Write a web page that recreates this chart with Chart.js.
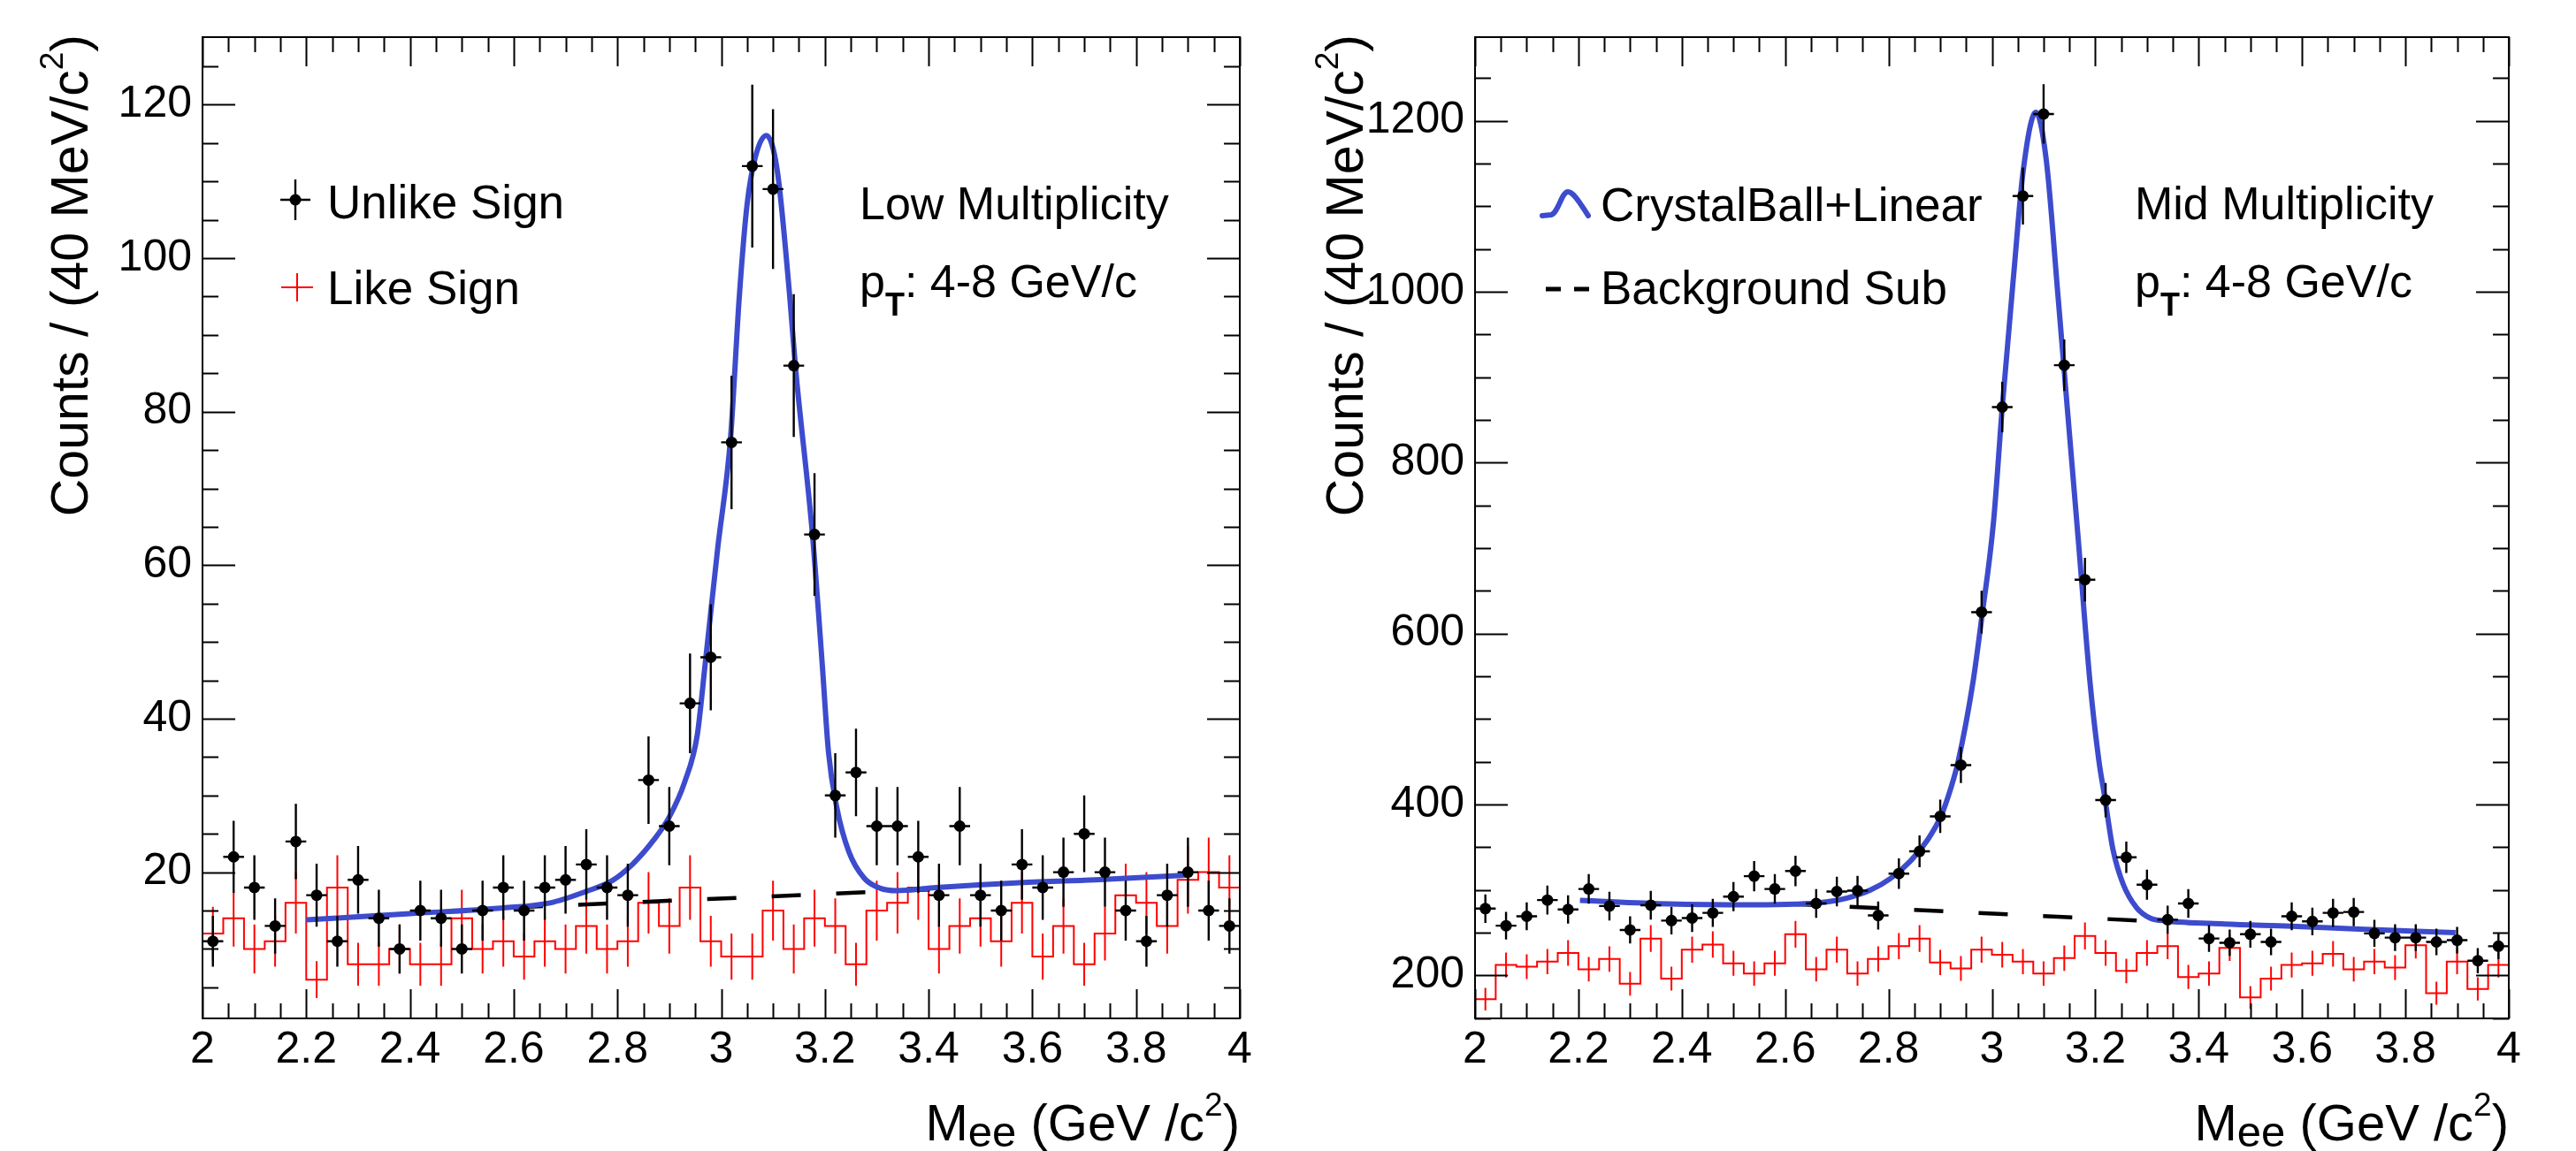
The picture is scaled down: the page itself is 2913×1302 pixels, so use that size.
<!DOCTYPE html>
<html>
<head>
<meta charset="utf-8">
<title>J/psi invariant mass</title>
<script src="https://cdn.jsdelivr.net/npm/chart.js@4"></script>
<style>
body { margin: 0; background: #fff; }
#page { position: relative; width: 2913px; height: 1302px; overflow: hidden; font-family: "Liberation Sans", Arial, sans-serif; color: #000; }
canvas { position: absolute; top: 0; }
.txt { position: absolute; white-space: nowrap; line-height: 1; z-index: 2; }
.ytitle { position: absolute; white-space: nowrap; line-height: 1; width: 1100px; text-align: right; font-size: 59px; transform-origin: 0 0; transform: rotate(-90deg); z-index: 2; }
.sup { font-size: 37px; position: relative; top: -28px; }
.sub { font-size: 49px; position: relative; top: 7px; }
.subT { font-size: 36px; font-weight: bold; position: relative; top: 21px; }
</style>
</head>
<body>
<div id="page">
  <canvas id="lowChart" width="1460" height="1302" style="left:0px"></canvas>
  <canvas id="midChart" width="1453" height="1302" style="left:1460px"></canvas>

  <div class="ytitle" style="left:50px; top:1139px">Counts / (40 MeV/c<span class="sup">2</span>)</div>
  <div class="txt" style="right:1511px; top:1241px; font-size:58px">M<span class="sub">ee</span> (GeV /c<span class="sup">2</span>)</div>
  <div class="txt" style="left:370px; top:202px; font-size:53px">Unlike Sign</div>
  <div class="txt" style="left:370px; top:299px; font-size:53px">Like Sign</div>
  <div class="txt" style="left:972px; top:204px; font-size:52px">Low Multiplicity</div>
  <div class="txt" style="left:972px; top:292px; font-size:52px">p<span class="subT">T</span>: 4-8 GeV/c</div>

  <div class="ytitle" style="left:1492px; top:1139px">Counts / (40 MeV/c<span class="sup">2</span>)</div>
  <div class="txt" style="right:76px; top:1241px; font-size:58px">M<span class="sub">ee</span> (GeV /c<span class="sup">2</span>)</div>
  <div class="txt" style="left:1810px; top:205px; font-size:53px">CrystalBall+Linear</div>
  <div class="txt" style="left:1810px; top:299px; font-size:53px">Background Sub</div>
  <div class="txt" style="left:2414px; top:204px; font-size:52px">Mid Multiplicity</div>
  <div class="txt" style="left:2414px; top:292px; font-size:52px">p<span class="subT">T</span>: 4-8 GeV/c</div>
</div>

<script>
// bin centres, 40 MeV bins from 2 to 4 GeV/c^2
const massBins = [2.02, 2.06, 2.10, 2.14, 2.18, 2.22, 2.26, 2.30, 2.34, 2.38,
                  2.42, 2.46, 2.50, 2.54, 2.58, 2.62, 2.66, 2.70, 2.74, 2.78,
                  2.82, 2.86, 2.90, 2.94, 2.98, 3.02, 3.06, 3.10, 3.14, 3.18,
                  3.22, 3.26, 3.30, 3.34, 3.38, 3.42, 3.46, 3.50, 3.54, 3.58,
                  3.62, 3.66, 3.70, 3.74, 3.78, 3.82, 3.86, 3.90, 3.94, 3.98];
const binHalfWidth = 0.02;
const massTicks = [2, 2.2, 2.4, 2.6, 2.8, 3, 3.2, 3.4, 3.6, 3.8, 4];

// ---- low multiplicity ----
const lowUnlike = [11, 22, 18, 13, 24, 17, 11, 19, 14, 10, 15, 14, 10, 15, 18, 15, 18, 19, 21, 18,
                   17, 32, 26, 42, 48, 76, 112, 109, 86, 64, 30, 33, 26, 26, 22, 17, 26, 17, 15, 21,
                   18, 20, 25, 20, 15, 11, 17, 20, 15, 13];
const lowUnlikeErr = [3.3, 4.7, 4.2, 3.6, 4.9, 4.1, 3.3, 4.4, 3.7, 3.2, 3.9, 3.7, 3.2, 3.9, 4.2, 3.9, 4.2, 4.4, 4.6, 4.2,
                      4.1, 5.7, 5.1, 6.5, 6.9, 8.7, 10.6, 10.4, 9.3, 8.0, 5.5, 5.7, 5.1, 5.1, 4.7, 4.1, 5.1, 4.1, 3.9, 4.6,
                      4.2, 4.5, 5.0, 4.5, 3.9, 3.3, 4.1, 4.5, 3.9, 3.6];
const lowLike = [12, 14, 10, 11, 16, 6, 18, 8, 8, 10, 8, 8, 14, 10, 11, 9, 11, 10, 13, 10,
                 11, 16, 13, 18, 11, 9, 9, 15, 10, 14, 13, 8, 15, 16, 18, 10, 13, 14, 11, 16,
                 9, 13, 8, 12, 17, 16, 13, 19, 20, 18];
const lowLikeErr = [3.5, 3.7, 3.2, 3.3, 4.0, 2.4, 4.2, 2.8, 2.8, 3.2, 2.8, 2.8, 3.7, 3.2, 3.3, 3.0, 3.3, 3.2, 3.6, 3.2,
                    3.3, 4.0, 3.6, 4.2, 3.3, 3.0, 3.0, 3.9, 3.2, 3.7, 3.6, 2.8, 3.9, 4.0, 4.2, 3.2, 3.6, 3.7, 3.3, 4.0,
                    3.0, 3.6, 2.8, 3.5, 4.1, 4.0, 3.6, 4.4, 4.5, 4.2];
const lowFitMass = [2.20, 2.40, 2.58, 2.67, 2.74, 2.79, 2.83, 2.87, 2.90, 2.93, 2.954, 2.969, 2.993, 3.018,
                    3.035, 3.05, 3.066, 3.087, 3.108, 3.132, 3.143, 3.176, 3.195, 3.207, 3.223, 3.246,
                    3.276, 3.307, 3.338, 3.415, 3.568, 3.722, 3.898];
const lowFitCounts = [13.8, 14.6, 15.35, 16.0, 17.5, 18.9, 21.1, 24.2, 27.2, 31.8, 37.9, 47, 62, 76.5,
                      95, 107, 113.2, 116, 111.5, 95.2, 86, 64, 47, 35.6, 28.4, 22.7,
                      19.2, 17.9, 17.6, 18.0, 18.6, 19.0, 19.6];
const lowBkgMass = [2.6, 3.42];
const lowBkgCounts = [15.4, 17.8];
const lowYTicks = [20, 40, 60, 80, 100, 120];

// ---- mid multiplicity ----
const midUnlike = [278, 258, 269, 288, 277, 301, 281, 253, 282, 264, 267, 273, 292, 316, 301, 322, 284, 298, 299, 270,
                   319, 345, 386, 446, 625, 865, 1112, 1208, 914, 663, 405, 338, 306, 265, 284, 243, 238, 248, 239, 269,
                   263, 273, 274, 249, 244, 244, 239, 241, 217, 234];
const midUnlikeErr = [16.7, 16.1, 16.4, 17.0, 16.6, 17.3, 16.8, 15.9, 16.8, 16.2, 16.3, 16.5, 17.1, 17.8, 17.3, 17.9, 16.9, 17.3, 17.3, 16.4,
                      17.9, 18.6, 19.6, 21.1, 25.0, 29.4, 33.3, 34.8, 30.2, 25.7, 20.1, 18.4, 17.5, 16.3, 16.9, 15.6, 15.4, 15.7, 15.5, 16.4,
                      16.2, 16.5, 16.6, 15.8, 15.6, 15.6, 15.5, 15.5, 14.7, 15.3];
const midLike = [172, 212, 210, 216, 226, 207, 219, 190, 243, 196, 230, 236, 214, 202, 214, 248, 207, 230, 202, 219,
                 234, 243, 215, 208, 230, 224, 216, 202, 220, 246, 226, 205, 226, 234, 198, 202, 232, 174, 196, 212,
                 214, 225, 207, 216, 209, 235, 179, 216, 184, 212];
const midLikeErr = [13.1, 14.6, 14.5, 14.7, 15.0, 14.4, 14.8, 13.8, 15.6, 14.0, 15.2, 15.4, 14.6, 14.2, 14.6, 15.7, 14.4, 15.2, 14.2, 14.8,
                    15.3, 15.6, 14.7, 14.4, 15.2, 15.0, 14.7, 14.2, 14.8, 15.7, 15.0, 14.3, 15.0, 15.3, 14.1, 14.2, 15.2, 13.2, 14.0, 14.6,
                    14.6, 15.0, 14.4, 14.7, 14.5, 15.3, 13.4, 14.7, 13.6, 14.6];
const midFitMass = [2.203, 2.375, 2.538, 2.619, 2.668, 2.72, 2.765, 2.804, 2.843, 2.875, 2.901, 2.921, 2.935,
                    2.963, 2.98, 3.003, 3.02, 3.043, 3.06, 3.085, 3.105, 3.128, 3.145, 3.168, 3.19, 3.207,
                    3.218, 3.234, 3.254, 3.28, 3.306, 3.339, 3.45, 3.58, 3.711, 3.897];
const midFitCounts = [287.6, 283.5, 282.5, 283.2, 285, 290.4, 299.7, 313.4, 334, 358, 385.6, 420, 451,
                      541.6, 617, 730, 864.6, 1026, 1139, 1210, 1155, 994, 870, 703, 541.6, 451,
                      409.6, 347.8, 306.5, 279, 267, 263.6, 260, 257.4, 254, 249.8];
const midBkgMass = [2.6, 3.42];
const midBkgCounts = [283.8, 260.1];
const midYTicks = [200, 400, 600, 800, 1000, 1200];

const fitBlue = '#3d4bcd';
const tickFont = { family: '"Liberation Sans", Arial, sans-serif', size: 50 };

// error bars drawn right after their own dataset, through the chart scales
const errorBars = {
    id: 'errorBars',
    afterDatasetDraw(chart, args) {
        const ds = chart.data.datasets[args.index];
        if (!ds.yErr) return;
        const { ctx, chartArea: a, scales: { x, y } } = chart;
        ctx.save();
        ctx.beginPath();
        ctx.rect(a.left, a.top, a.right - a.left, a.bottom - a.top);
        ctx.clip();
        ctx.strokeStyle = ds.errColor;
        ctx.lineWidth = ds.errWidth;
        ctx.beginPath();
        ds.data.forEach((p, i) => {
            const px = x.getPixelForValue(p.x);
            const py = y.getPixelForValue(p.y);
            ctx.moveTo(px, y.getPixelForValue(p.y - ds.yErr[i]));
            ctx.lineTo(px, y.getPixelForValue(p.y + ds.yErr[i]));
            if (ds.xErr) {
                ctx.moveTo(x.getPixelForValue(p.x - ds.xErr), py);
                ctx.lineTo(x.getPixelForValue(p.x + ds.xErr), py);
            }
        });
        ctx.stroke();
        ctx.restore();
    }
};

// ROOT style frame with ticks on all four sides, inside the frame
const rootFrame = {
    id: 'rootFrame',
    afterDraw(chart, args, opts) {
        const { ctx, chartArea: a, scales: { x, y } } = chart;
        ctx.save();
        ctx.strokeStyle = '#000';
        ctx.lineWidth = 2;
        ctx.strokeRect(a.left, a.top, a.right - a.left, a.bottom - a.top);
        ctx.beginPath();
        const nx = Math.round((x.max - x.min) / opts.xMinor);
        for (let k = 0; k <= nx; k++) {
            const v = x.min + k * opts.xMinor;
            const major = k % opts.xPerMajor === 0;
            const len = major ? 33 : 17;
            const px = Math.round(x.getPixelForValue(v)) + 0.5;
            ctx.moveTo(px, a.bottom); ctx.lineTo(px, a.bottom - len);
            ctx.moveTo(px, a.top); ctx.lineTo(px, a.top + len);
        }
        const k0 = Math.ceil(y.min / opts.yMinor);
        const k1 = Math.floor(y.max / opts.yMinor);
        for (let k = k0; k <= k1; k++) {
            const v = k * opts.yMinor;
            const major = k % opts.yPerMajor === 0;
            const len = major ? 37 : 18;
            const py = Math.round(y.getPixelForValue(v)) + 0.5;
            ctx.moveTo(a.left, py); ctx.lineTo(a.left + len, py);
            ctx.moveTo(a.right, py); ctx.lineTo(a.right - len, py);
        }
        ctx.stroke();
        ctx.restore();
    }
};

// legend glyphs (pixel positions inside each canvas)
const legendGlyphs = {
    id: 'legendGlyphs',
    afterDraw(chart, args, opts) {
        const ctx = chart.ctx;
        ctx.save();
        if (opts.kind === 'low') {
            ctx.strokeStyle = '#000'; ctx.lineWidth = 2.4;
            ctx.beginPath();
            ctx.moveTo(334, 203); ctx.lineTo(334, 249);
            ctx.moveTo(317, 226); ctx.lineTo(351, 226);
            ctx.stroke();
            ctx.fillStyle = '#000';
            ctx.beginPath(); ctx.arc(334, 226, 6.5, 0, Math.PI * 2); ctx.fill();
            ctx.strokeStyle = '#ff0000'; ctx.lineWidth = 2;
            ctx.beginPath();
            ctx.moveTo(336, 309); ctx.lineTo(336, 341);
            ctx.moveTo(318, 325); ctx.lineTo(354, 325);
            ctx.stroke();
        } else {
            ctx.strokeStyle = fitBlue; ctx.lineWidth = 6; ctx.lineCap = 'round';
            ctx.beginPath();
            ctx.moveTo(284, 244);
            ctx.lineTo(294, 243);
            ctx.bezierCurveTo(302, 241, 306, 217, 313, 217);
            ctx.bezierCurveTo(320, 217, 328, 232, 336, 244);
            ctx.stroke();
            ctx.strokeStyle = '#000'; ctx.lineWidth = 5; ctx.lineCap = 'butt';
            ctx.beginPath();
            ctx.moveTo(288, 327); ctx.lineTo(305, 327);
            ctx.moveTo(320, 327); ctx.lineTo(337, 327);
            ctx.stroke();
        }
        ctx.restore();
    }
};

function histEdges(values) {
    const pts = massBins.map((c, i) => ({ x: c - binHalfWidth, y: values[i] }));
    const last = massBins.length - 1;
    pts.push({ x: massBins[last] + binHalfWidth, y: values[last] });
    return pts;
}

function toPoints(xs, ys) {
    return xs.map((v, i) => ({ x: v, y: ys[i] }));
}

function makePanel(canvasId, p) {
    const ctx = document.getElementById(canvasId).getContext('2d');
    return new Chart(ctx, {
        type: 'scatter',
        data: {
            datasets: [
                {   // unlike sign, on top
                    label: 'Unlike Sign',
                    data: toPoints(massBins, p.unlike),
                    yErr: p.unlikeErr, xErr: binHalfWidth, errColor: '#000', errWidth: 2.4,
                    pointRadius: 6.5, pointBackgroundColor: '#000', pointBorderWidth: 0,
                    showLine: false
                },
                {
                    label: 'CrystalBall+Linear',
                    data: toPoints(p.fitMass, p.fitCounts),
                    showLine: true, borderColor: fitBlue, borderWidth: 6,
                    pointRadius: 0, cubicInterpolationMode: 'monotone'
                },
                {
                    label: 'Background Sub',
                    data: toPoints(p.bkgMass, p.bkgCounts),
                    showLine: true, borderColor: '#000', borderWidth: 4.5,
                    borderDash: [33, 40], pointRadius: 0
                },
                {   // like sign error bars at bin centres
                    label: 'Like Sign errors',
                    data: toPoints(massBins, p.like),
                    yErr: p.likeErr, errColor: '#ff0000', errWidth: 2,
                    pointRadius: 0, showLine: false
                },
                {
                    label: 'Like Sign',
                    data: histEdges(p.like),
                    showLine: true, stepped: 'before', borderColor: '#ff0000',
                    borderWidth: 2, pointRadius: 0
                }
            ]
        },
        options: {
            responsive: false,
            animation: false,
            events: [],
            layout: { padding: { left: 0, top: 38, right: p.padRight, bottom: 0 } },
            plugins: {
                legend: { display: false },
                tooltip: { enabled: false },
                rootFrame: { xMinor: 0.05, xPerMajor: 4, yMinor: p.yMinor, yPerMajor: 4 },
                legendGlyphs: { kind: p.kind }
            },
            scales: {
                x: {
                    type: 'linear', min: 2, max: 4,
                    grid: { display: false, drawTicks: false },
                    border: { display: false },
                    afterBuildTicks: s => { s.ticks = massTicks.map(v => ({ value: v })); },
                    afterFit: s => { s.height = 150; },
                    ticks: {
                        font: tickFont, color: '#000', padding: 6,
                        autoSkip: false, maxRotation: 0,
                        callback: v => String(v)
                    }
                },
                y: {
                    type: 'linear', min: p.yMin, max: p.yMax,
                    grid: { display: false, drawTicks: false },
                    border: { display: false },
                    afterBuildTicks: s => { s.ticks = p.yTicks.map(v => ({ value: v })); },
                    afterFit: s => { s.width = p.axisLeft; },
                    ticks: {
                        font: tickFont, color: '#000', padding: 12,
                        autoSkip: false,
                        callback: v => String(v)
                    }
                }
            }
        },
        plugins: [errorBars, rootFrame, legendGlyphs]
    });
}

window.lowChart = makePanel('lowChart', {
    kind: 'low',
    unlike: lowUnlike, unlikeErr: lowUnlikeErr,
    like: lowLike, likeErr: lowLikeErr,
    fitMass: lowFitMass, fitCounts: lowFitCounts,
    bkgMass: lowBkgMass, bkgCounts: lowBkgCounts,
    yTicks: lowYTicks, yMin: 0.95, yMax: 128.8, yMinor: 5,
    axisLeft: 229, padRight: 58
});

window.midChart = makePanel('midChart', {
    kind: 'mid',
    unlike: midUnlike, unlikeErr: midUnlikeErr,
    like: midLike, likeErr: midLikeErr,
    fitMass: midFitMass, fitCounts: midFitCounts,
    bkgMass: midBkgMass, bkgCounts: midBkgCounts,
    yTicks: midYTicks, yMin: 149.5, yMax: 1298, yMinor: 50,
    axisLeft: 208, padRight: 76
});
</script>
</body>
</html>
